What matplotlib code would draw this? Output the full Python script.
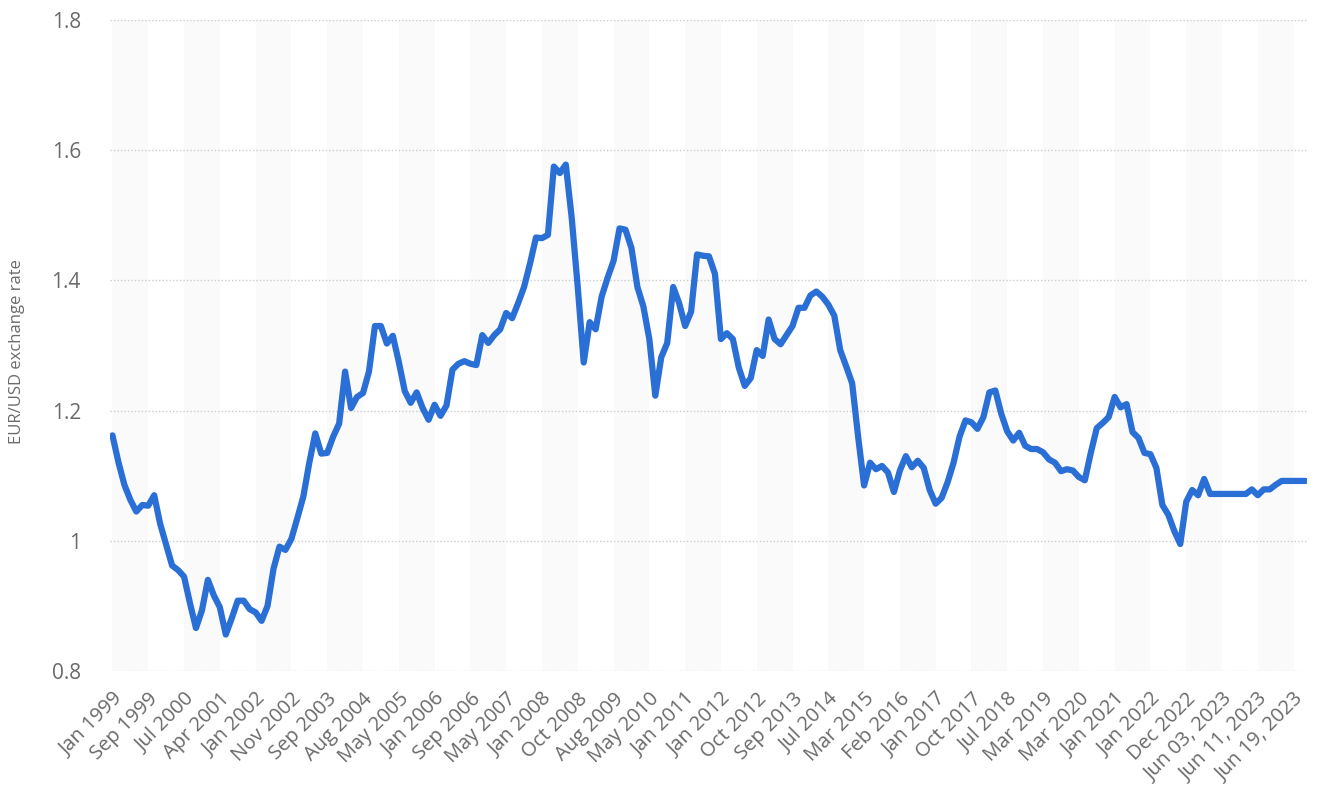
import matplotlib

matplotlib.use('Agg')
import matplotlib.pyplot as plt

plt.rcParams['font.family'] = ['Open Sans', 'DejaVu Sans']

# EUR/USD values, equally spaced categories (6 per labelled step)
rates = [
    1.162, 1.121, 1.086, 1.063, 1.045, 1.055, 1.054, 1.070, 1.026, 0.994,
    0.962, 0.955, 0.945, 0.904, 0.866, 0.893, 0.940, 0.916, 0.898, 0.856,
    0.881, 0.908, 0.908, 0.895, 0.890, 0.877, 0.900, 0.957, 0.991, 0.986,
    1.003, 1.035, 1.068, 1.120, 1.165, 1.134, 1.135, 1.160, 1.180, 1.260,
    1.204, 1.221, 1.227, 1.260, 1.330, 1.330, 1.303, 1.315, 1.275, 1.230,
    1.212, 1.228, 1.204, 1.186, 1.209, 1.192, 1.208, 1.263, 1.272, 1.276,
    1.272, 1.270, 1.316, 1.304, 1.316, 1.325, 1.350, 1.342, 1.365, 1.390,
    1.426, 1.466, 1.465, 1.470, 1.575, 1.565, 1.578, 1.495, 1.390, 1.274,
    1.336, 1.325, 1.375, 1.404, 1.430, 1.480, 1.478, 1.450, 1.390, 1.360,
    1.310, 1.223, 1.282, 1.304, 1.390, 1.365, 1.330, 1.352, 1.440, 1.438,
    1.437, 1.410, 1.310, 1.319, 1.310, 1.266, 1.238, 1.250, 1.293, 1.284,
    1.340, 1.310, 1.302, 1.316, 1.330, 1.358, 1.358, 1.377, 1.383, 1.375,
    1.363, 1.346, 1.293, 1.268, 1.242, 1.160, 1.085, 1.120, 1.110, 1.115,
    1.105, 1.075, 1.108, 1.130, 1.113, 1.123, 1.112, 1.078, 1.057, 1.066,
    1.090, 1.120, 1.160, 1.185, 1.182, 1.172, 1.190, 1.228, 1.231, 1.195,
    1.168, 1.154, 1.166, 1.146, 1.141, 1.141, 1.136, 1.125, 1.120, 1.107,
    1.110, 1.108, 1.098, 1.093, 1.135, 1.173, 1.181, 1.190, 1.221, 1.205,
    1.210, 1.167, 1.158, 1.135, 1.133, 1.112, 1.055, 1.040, 1.015, 0.995,
    1.060, 1.078, 1.070, 1.095, 1.072, 1.072, 1.072, 1.072, 1.072, 1.072,
    1.072, 1.079, 1.070, 1.079, 1.079, 1.086, 1.092, 1.092, 1.092, 1.092,
    1.092,
]

tick_labels = [
    'Jan 1999', 'Sep 1999', 'Jul 2000', 'Apr 2001', 'Jan 2002', 'Nov 2002',
    'Sep 2003', 'Aug 2004', 'May 2005', 'Jan 2006', 'Sep 2006', 'May 2007',
    'Jan 2008', 'Oct 2008', 'Aug 2009', 'May 2010', 'Jan 2011', 'Jan 2012',
    'Oct 2012', 'Sep 2013', 'Jul 2014', 'Mar 2015', 'Feb 2016', 'Jan 2017',
    'Oct 2017', 'Jul 2018', 'Mar 2019', 'Mar 2020', 'Jan 2021', 'Jan 2022',
    'Dec 2022', 'Jun 03, 2023', 'Jun 11, 2023', 'Jun 19, 2023',
]
label_step = 6

y_ticks = [0.8, 1.0, 1.2, 1.4, 1.6, 1.8]
y_tick_labels = ['0.8', '1', '1.2', '1.4', '1.6', '1.8']

fig = plt.figure(figsize=(13.34, 8.05), dpi=100)
ax = fig.add_axes([0.0825, 0.1665, 0.8975, 0.8085])

tick_pos = [i * label_step for i in range(len(tick_labels))]

# faint alternating column bands
for k in range(0, len(tick_pos), 2):
    ax.axvspan(tick_pos[k], tick_pos[k] + label_step, color='#fafafa', lw=0, zorder=0)

for y in y_ticks:
    ax.axhline(y, color='#cccccc', lw=1, ls=(0, (1, 1.5)), zorder=1)

ax.plot(range(len(rates)), rates, color='#2a6fd6', lw=4.5,
        solid_joinstyle='round', solid_capstyle='round', zorder=3)

ax.set_xlim(-0.4, len(rates) - 0.7)
ax.set_ylim(0.8, 1.8)

ax.set_xticks(tick_pos)
ax.set_xticklabels(tick_labels, rotation=45, ha='right', rotation_mode='anchor',
                   fontsize=14.5, color='#6a6a6a')
ax.set_yticks(y_ticks)
ax.set_yticklabels(y_tick_labels, fontsize=15, color='#6a6a6a')
ax.tick_params(axis='x', length=0, pad=13)
ax.tick_params(axis='y', length=0, pad=21)

ax.set_ylabel('EUR/USD exchange rate', fontsize=12, color='#6a6a6a')
ax.yaxis.set_label_coords(-0.071, 0.49)

for s in ax.spines.values():
    s.set_visible(False)

fig.savefig('out.png', dpi=100)
